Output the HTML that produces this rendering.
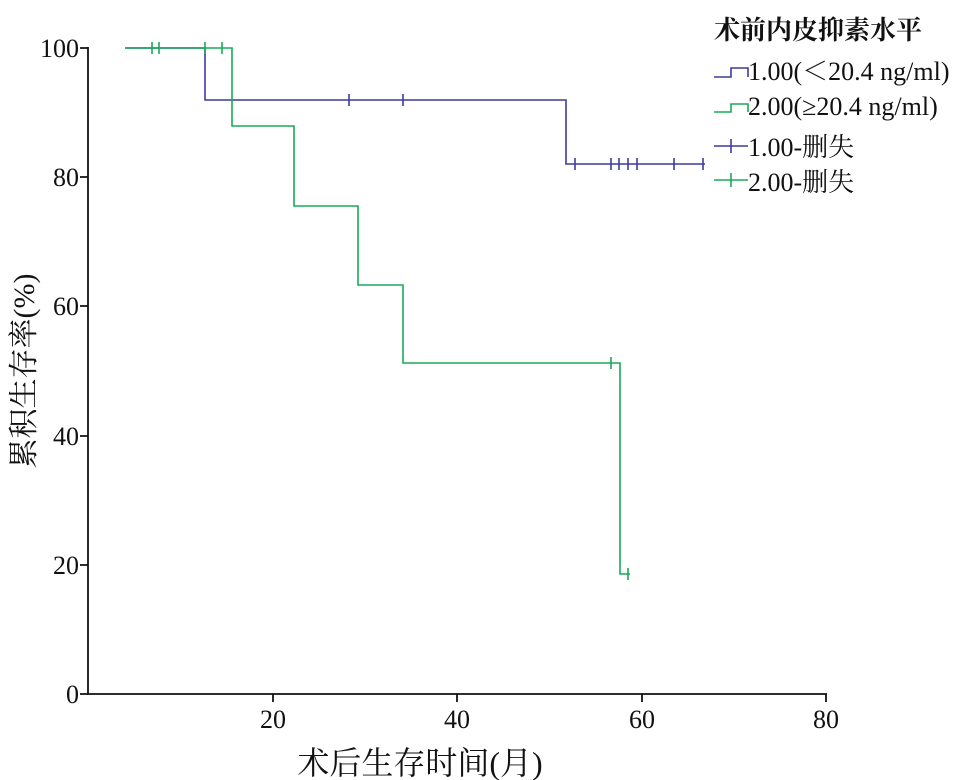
<!DOCTYPE html><html><head><style>body{margin:0;background:#fff}svg{display:block}text{font-family:"Liberation Serif","Noto Serif CJK SC",serif;fill:#111}</style></head><body>
<svg width="956" height="780" xmlns="http://www.w3.org/2000/svg">
<g stroke="#111" stroke-width="1.8" fill="none">
<path d="M88 47V694H827"/>
<path d="M80 48H88M80 177H88M80 306H88M80 436H88M80 565H88M80 694H88"/>
<path d="M273 694V702M457 694V702M642 694V702M826 694V702"/>
</g>
<g font-size="26" text-anchor="end">
<text x="79" y="57">100</text><text x="79" y="186">80</text><text x="79" y="315">60</text><text x="79" y="445">40</text><text x="79" y="574">20</text><text x="79" y="703">0</text>
</g>
<g font-size="26" text-anchor="middle">
<text x="273" y="728">20</text><text x="457" y="728">40</text><text x="642" y="728">60</text><text x="826" y="728">80</text>
<text x="420" y="774" font-size="32">术后生存时间(月)</text>
</g>
<text transform="translate(34,371) rotate(-90)" font-size="30" text-anchor="middle">累积生存率(%)</text>
<g fill="none" stroke-width="1.6">
<path stroke="#3c3c9c" d="M125 48H205V100H566V164H705"/>
<path stroke="#3c3c9c" d="M349 94V106M403 94V106M575 158V170M611 158V170M619 158V170M628 158V170M637 158V170M674 158V170M703 158V170"/>
<path stroke="#1aaa5a" d="M125 48H232V126H294V206H358V285H403V363H620V574H630"/>
<path stroke="#1aaa5a" d="M152 42V54M159 42V54M205 42V54M222 42V54M611 357V369M628 568V580"/>
<path stroke="#3c3c9c" d="M714 77H731V68H748V77"/>
<path stroke="#1aaa5a" d="M714 112H731V104H748V112"/>
<path stroke="#3c3c9c" d="M714 146H748M731 139V153"/>
<path stroke="#1aaa5a" d="M714 180H748M731 173V187"/>
</g>
<g font-size="26">
<text x="714" y="39" font-size="26" font-weight="bold" font-family="Liberation Sans,Noto Sans CJK SC,sans-serif">术前内皮抑素水平</text>
<text x="748" y="80">1.00(＜20.4 ng/ml)</text>
<text x="748" y="115">2.00(≥20.4 ng/ml)</text>
<text x="748" y="156">1.00-删失</text>
<text x="748" y="191">2.00-删失</text>
</g>
</svg></body></html>
